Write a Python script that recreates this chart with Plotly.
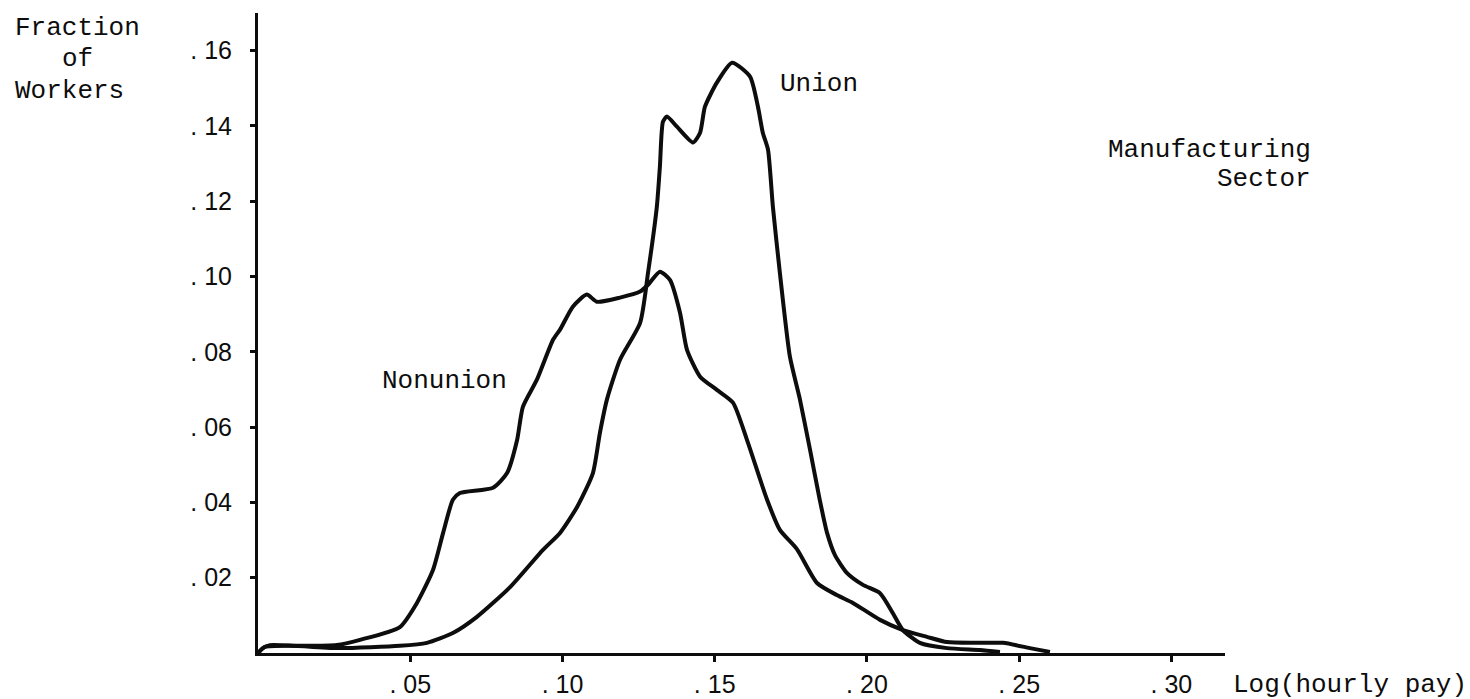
import plotly.graph_objects as go

# ---- data ----
nonunion_x = [0, 0.0016, 0.0039, 0.0138, 0.0259, 0.0335, 0.0466, 0.0522, 0.0575, 0.0608,
              0.0640, 0.0663, 0.0772, 0.0818, 0.0851, 0.0870, 0.0916, 0.0969, 0.0992, 0.1034,
              0.1080, 0.1113, 0.1189, 0.1255, 0.1281, 0.1320, 0.1353, 0.1386, 0.1409, 0.1452,
              0.1507, 0.1560, 0.1606, 0.1672, 0.1714, 0.1770, 0.1836, 0.1901, 0.1954, 0.2043,
              0.2118, 0.2197, 0.2263, 0.2355, 0.2447, 0.2535, 0.2601]
nonunion_y = [0, 0.0013, 0.0021, 0.0019, 0.0021, 0.0035, 0.0069, 0.0133, 0.0221, 0.0319,
              0.0407, 0.0425, 0.0439, 0.0478, 0.0566, 0.0654, 0.0726, 0.0832, 0.0859, 0.0920,
              0.0952, 0.0933, 0.0944, 0.0960, 0.0978, 0.1013, 0.0991, 0.0904, 0.0805, 0.0734,
              0.0699, 0.0665, 0.0566, 0.0407, 0.0327, 0.0276, 0.0186, 0.0154, 0.0133, 0.0088,
              0.0061, 0.0043, 0.0029, 0.0027, 0.0027, 0.0013, 0.0003]

union_x = [0, 0.0023, 0.0105, 0.0269, 0.0466, 0.0555, 0.0640, 0.0719, 0.0828, 0.0936,
           0.0992, 0.1048, 0.1100, 0.1123, 0.1146, 0.1189, 0.1255, 0.1281, 0.1310, 0.1320,
           0.1330, 0.1343, 0.1376, 0.1429, 0.1452, 0.1468, 0.1507, 0.1557, 0.1616, 0.1642,
           0.1658, 0.1675, 0.1691, 0.1714, 0.1747, 0.1780, 0.1813, 0.1845, 0.1869, 0.1895,
           0.1934, 0.1987, 0.2043, 0.2085, 0.2118, 0.2174, 0.2263, 0.2371, 0.2437]
union_y = [0, 0.0016, 0.0019, 0.0013, 0.0019, 0.0027, 0.0053, 0.0096, 0.0175, 0.0274,
           0.0319, 0.0388, 0.0478, 0.0585, 0.0673, 0.0779, 0.0877, 0.1010, 0.1186, 0.1292,
           0.1411, 0.1425, 0.1398, 0.1356, 0.1382, 0.1451, 0.1515, 0.1568, 0.1531, 0.1451,
           0.1382, 0.1337, 0.1186, 0.1010, 0.0787, 0.0673, 0.0540, 0.0407, 0.0319, 0.0260,
           0.0213, 0.0181, 0.0159, 0.0106, 0.0061, 0.0027, 0.0013, 0.0008, 0.0003]

x_tickvals = [0.05, 0.10, 0.15, 0.20, 0.25, 0.30]
x_ticktext = [". 05", ". 10", ". 15", ". 20", ". 25", ". 30"]
y_tickvals = [0.02, 0.04, 0.06, 0.08, 0.10, 0.12, 0.14, 0.16]
y_ticktext = [". 02", ". 04", ". 06", ". 08", ". 10", ". 12", ". 14", ". 16"]

MONO = "Liberation Mono"
SANS = "Liberation Sans"
INK = "#0d0d0d"

fig = go.Figure()
for xs, ys in ((nonunion_x, nonunion_y), (union_x, union_y)):
    fig.add_trace(go.Scatter(
        x=xs, y=ys, mode="lines",
        line=dict(color=INK, width=4, shape="spline", smoothing=0.6),
        cliponaxis=False, hoverinfo="skip", showlegend=False))

W, H = 1470, 699
L, R, T, B = 258, 245, 13, 46
pw, ph = W - L - R, H - T - B

def px(xp):
    return (xp - L) / pw

def py(yp):
    return (H - B - yp) / ph

ann = []
def text(s, x, y, anchor="left"):
    ann.append(dict(text=s, x=px(x), y=py(y), xref="paper", yref="paper",
                    xanchor=anchor, yanchor="middle", showarrow=False,
                    font=dict(family=MONO, size=26, color=INK)))

text("Fraction", 13, 28)
text("of", 60, 59)
text("Workers", 13, 91)
text("Union", 778, 84)
text("Nonunion", 380, 381)
text("Manufacturing", 1313, 150, "right")
text("Sector", 1313, 179, "right")
text("Log(hourly pay)", 1231, 685)

fig.update_layout(
    width=W, height=H,
    margin=dict(l=L, r=R, t=T, b=B, pad=0, autoexpand=False),
    paper_bgcolor="white", plot_bgcolor="white",
    showlegend=False, hovermode=False,
    annotations=ann,
    xaxis=dict(range=[0, 0.3176], showline=True, linewidth=3, linecolor=INK,
               showgrid=False, zeroline=False, ticks="outside", ticklen=6,
               tickwidth=3, tickcolor=INK, tickvals=x_tickvals, automargin=False,
               ticktext=x_ticktext, ticklabelstandoff=1,
               tickfont=dict(family=SANS, size=25, color=INK)),
    yaxis=dict(range=[0, 0.170], showline=True, linewidth=3, linecolor=INK,
               showgrid=False, zeroline=False, ticks="outside", ticklen=5,
               tickwidth=3, tickcolor=INK, tickvals=y_tickvals, automargin=False,
               ticktext=y_ticktext, ticklabelstandoff=13,
               tickfont=dict(family=SANS, size=25, color=INK)),
)

fig.write_html("out.html", config={"displayModeBar": False},
               post_script="document.body.style.margin='0';document.body.style.overflow='hidden';")
